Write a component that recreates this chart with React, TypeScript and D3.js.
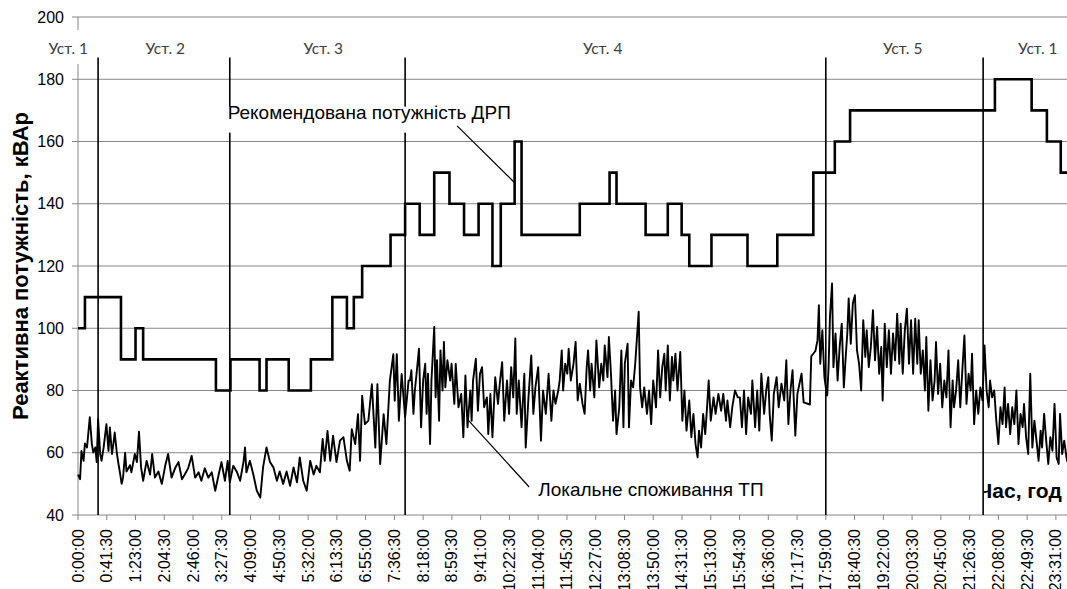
import React from "react";
import * as d3 from "d3";

const W = 1067;
const H = 589;

// y axis (кВАр)
const yTicks = [40, 60, 80, 100, 120, 140, 160, 180, 200];

// time axis labels, one every 41.5 minutes
const timeLabels = [
  "0:00:00", "0:41:30", "1:23:00", "2:04:30", "2:46:00", "3:27:30", "4:09:00",
  "4:50:30", "5:32:00", "6:13:30", "6:55:00", "7:36:30", "8:18:00", "8:59:30",
  "9:41:00", "10:22:30", "11:04:00", "11:45:30", "12:27:00", "13:08:30",
  "13:50:00", "14:31:30", "15:13:00", "15:54:30", "16:36:00", "17:17:30",
  "17:59:00", "18:40:30", "19:22:00", "20:03:30", "20:45:00", "21:26:30",
  "22:08:00", "22:49:30", "23:31:00",
];

// settings (уставки) - minutes of the day
const settingNames = ["Уст. 1", "Уст. 2", "Уст. 3", "Уст. 4", "Уст. 5", "Уст. 1"];
const settingLabelAt = [-14, 126, 354, 757, 1190, 1385];
const settingChanges = [29, 219, 472, 1079, 1306];

// recommended DRP power, step changes (minute, kVAr)
const drpTimes = [
  0, 10, 62, 83, 94, 199, 220, 262, 272, 304, 336, 367, 388, 398, 410, 451,
  472, 493, 514, 536, 557, 578, 598, 610, 630, 640, 724, 767, 777, 819, 851,
  871, 882, 914, 966, 1009, 1061, 1092, 1114, 1323, 1376, 1398, 1418,
];
const drpValues = [
  100, 110, 90, 100, 90, 80, 90, 80, 90, 80, 90, 110, 100, 110, 120, 130,
  140, 130, 150, 140, 130, 140, 120, 140, 160, 130, 140, 150, 140, 130, 140,
  130, 120, 130, 120, 130, 150, 160, 170, 180, 170, 160, 150,
];

// local consumption of the substation (minute, kVAr)
const loadNight: [number, number][] = [
  [0, 53], [3, 51.5], [5, 60.6], [8, 57.4], [10, 63], [13, 61.7], [15, 66.5], [17, 71.4],
  [20, 62.8], [22, 60.1], [25, 61.7], [27, 57], [29, 70.8], [32, 59.6], [34, 57.4], [37, 61.7],
  [41, 69.2], [44, 60.6], [46, 68.1], [49, 59.6], [51, 62.8], [53, 66.5], [56, 60], [58, 57],
  [61, 53], [63, 50], [65, 52], [68, 60], [70, 54], [75, 56], [77, 53.7], [82, 59.6],
  [85, 57], [88, 66.8], [91, 55.3], [94, 51], [99, 57.4], [104, 53], [107, 59.6], [111, 52],
  [116, 54], [121, 50], [126, 56], [130, 59.6], [135, 52], [140, 55], [145, 57], [150, 51.5],
  [154, 53], [159, 55], [164, 59], [169, 52], [174, 53.7], [178, 51], [183, 55], [188, 52],
  [193, 53.7], [198, 47.8], [203, 53], [207, 57], [212, 51], [216, 57.4], [219, 50.5], [224, 55.8],
  [229, 54], [234, 51], [239, 57.4], [241, 61.7], [243, 53.7], [248, 57.4], [253, 53], [258, 47.8],
  [263, 45.6], [267, 55.3], [272, 61.7], [277, 57], [282, 55.3], [287, 51], [291, 54], [296, 50],
  [301, 54], [306, 49.4], [311, 55.3], [316, 50.5], [320, 58.5], [325, 51], [330, 47.8], [335, 57.4],
  [340, 53], [344, 55.8], [349, 53.7], [353, 64.4], [356, 57.4], [360, 67], [364, 57.4], [368, 65.5],
  [373, 57], [378, 63.9], [383, 65], [388, 57.4], [392, 54.2], [395, 67.6], [400, 62.8], [404, 72.4],
  [407, 57.4], [410, 78.3], [414, 69.2], [419, 70.3], [424, 82], [429, 61.7], [432, 82], [436, 56.4],
  [441, 72.4], [445, 62.8], [450, 83.2], [455, 91.7], [457, 76.7], [460, 91.7], [463, 70.3], [467, 85.3],
  [472, 71.4], [477, 83.2],
];
const loadDay: [number, number][] = [
  [479, 83.2], [481, 86.5], [484, 72.5], [486, 80], [489, 86.5], [492, 93.4], [495, 68.2], [498, 83.2],
  [501, 88.6], [503, 72.5], [505, 85.4], [508, 62.8], [510, 83.2], [514, 100.4], [516, 77.8], [518, 89.7],
  [521, 70.3], [523, 92.9], [526, 80], [528, 95.6], [530, 81], [533, 89.7], [537, 83.2], [539, 88.6],
  [543, 75.7], [545, 88.6], [549, 74.6], [553, 78.9], [556, 65], [559, 84.8], [562, 68.2], [566, 80],
  [568, 70.3], [570, 83.2], [574, 90.2], [577, 73.5], [580, 85.4], [583, 87.5], [586, 74.6], [590, 77.8],
  [592, 66], [595, 78.9], [598, 65], [602, 84.3], [606, 75.7], [609, 83.2], [612, 89.1], [615, 70.3],
  [619, 83.2], [622, 72.5], [625, 87.5], [628, 77.8], [631, 96.7], [633, 72.5], [636, 83.2], [640, 68.2],
  [644, 85.4], [646, 61.7], [650, 77.8], [654, 91.3], [657, 72.5], [660, 81], [664, 87.5], [668, 63.9],
  [671, 80], [675, 72.5], [679, 85.4], [683, 70.3], [686, 80], [689, 75.7], [693, 80], [695, 83.2],
  [698, 92.9], [700, 80], [703, 88.6], [706, 85.4], [708, 93.4], [711, 83.2], [715, 88.6], [718, 95.6],
  [721, 76.8], [724, 82.2], [728, 75.7], [731, 72.5], [734, 87.5], [736, 92.9], [739, 80], [741, 88.6],
  [745, 77.8], [748, 96.1], [752, 81], [755, 88.6], [758, 83.2], [760, 94.5], [764, 84.3], [766, 97.2],
  [769, 85.4], [772, 70.3], [775, 80], [777, 66], [781, 74.6], [784, 92.9], [787, 68.2], [789, 88.6],
  [793, 95], [795, 68.2], [798, 83.2], [801, 81], [804, 88.6], [809, 105.3], [811, 81], [814, 74.6],
  [817, 81], [821, 72.5], [824, 80], [827, 69.2], [830, 83.2], [834, 74.6], [837, 92.9], [840, 77.8],
  [843, 87.5], [846, 91.8], [848, 80], [851, 94.5], [854, 76.8], [857, 90.8], [859, 83.2], [862, 91.8],
  [865, 80], [869, 92.4], [872, 70.3], [875, 80], [878, 67.1], [882, 76.8], [885, 65], [888, 72.5],
  [891, 62.8], [894, 58.5], [896, 67.1], [899, 61.7], [902, 72.5], [905, 66], [908, 75.7], [910, 83.2],
  [913, 70.3], [917, 77.8], [920, 72.5], [924, 78.9], [928, 73.5], [931, 78.9], [935, 70.3], [937, 76.8],
  [941, 68.2], [944, 74.6], [948, 80], [952, 77.8],
];
const loadEvening: [number, number][] = [
  [955, 77.8], [958, 68.2], [961, 80], [964, 66], [967, 77.8], [971, 72.5], [973, 83.2], [977, 68.2],
  [980, 80], [983, 67.1], [986, 85.4], [990, 72.5], [993, 80], [996, 84.3], [998, 72.5], [1001, 63.9],
  [1004, 78.9], [1008, 84.3], [1011, 74.6], [1015, 82.2], [1019, 76.8], [1022, 89.7], [1025, 69.2], [1028, 80],
  [1031, 86.5], [1035, 65.5], [1038, 78.9], [1042, 83.2], [1044, 85.4], [1047, 76.2], [1056, 75.5], [1058, 91],
  [1064, 92.7], [1067, 96.1], [1069, 107.4], [1071, 88.6], [1074, 99.4], [1077, 84.3], [1079, 81], [1081, 78.4],
  [1083, 87.5], [1085, 103.7], [1088, 114.4], [1090, 87.5], [1093, 98.3], [1096, 83.2], [1099, 94], [1102, 101.5],
  [1105, 81], [1108, 91.8], [1110, 98.3], [1112, 109.6], [1115, 95], [1118, 108], [1121, 110.6], [1124, 92.9],
  [1127, 88.6], [1130, 80], [1133, 102.6], [1136, 90.8], [1138, 99.4], [1141, 87.5], [1144, 94], [1147, 105.8],
  [1150, 89.7], [1153, 100.4], [1156, 85.4], [1159, 94], [1161, 76.8], [1164, 101.5], [1167, 87.5], [1170, 99.4],
  [1173, 85.4], [1176, 98.3], [1179, 89.7], [1182, 104.7], [1185, 88.6], [1187, 101.5], [1190, 85.4], [1193, 99.4],
  [1196, 106.3], [1199, 88.6], [1202, 102.6], [1205, 85.4], [1208, 103.1], [1211, 88.6], [1213, 102.6], [1216, 85.4],
  [1219, 92.9], [1222, 80], [1224, 97.2], [1227, 73.5], [1230, 89.7], [1233, 76.8], [1236, 83.2], [1238, 95.6],
  [1241, 78.9], [1244, 88.6], [1247, 74.6], [1250, 83.2], [1253, 77.8], [1256, 92.9], [1259, 68.2], [1262, 83.2],
  [1264, 74.6], [1267, 80], [1270, 89.7], [1273, 74.6], [1276, 86.5], [1279, 97.7], [1282, 75.7], [1285, 85.4],
  [1288, 80], [1290, 91.8], [1293, 69.2], [1296, 80], [1299, 72.5], [1302, 81], [1305, 76.8], [1308, 94.5],
  [1311, 80], [1314, 74.6], [1316, 83.2], [1319, 77.8], [1322, 80], [1325, 70.3], [1328, 62.8], [1331, 74.6],
  [1334, 69.2], [1337, 81], [1339, 68.2], [1342, 75.7], [1345, 66], [1348, 74.6], [1351, 69.2], [1354, 80],
  [1357, 62.8], [1360, 72.5], [1363, 68.2], [1365, 75.7], [1368, 65], [1371, 59.6], [1374, 85.4], [1377, 61.7],
  [1380, 70.3], [1383, 63.9], [1386, 57.4], [1389, 67.1], [1391, 61.7], [1394, 72.5], [1397, 63.9], [1400, 56.4],
  [1403, 65], [1406, 60.6], [1409, 75.7], [1412, 58.5], [1415, 56.4], [1417, 72.5], [1420, 59.6], [1423, 63.9],
  [1427, 57.4], [1432, 61], [1438, 58],
];

const toMinutes = (s: string) => {
  const [h, m, sec] = s.split(":").map(Number);
  return h * 60 + m + sec / 60;
};

const App = () => {
  const x = d3.scaleLinear().domain([0, 1440]).range([78, 1076]);
  const y = d3.scaleLinear().domain([40, 200]).range([515, 17]);

  const drp: [number, number][] = drpTimes.map((t, i) => [t, drpValues[i]]);
  drp.push([1440, drpValues[drpValues.length - 1]]);
  const load = [...loadNight, ...loadDay, ...loadEvening];

  const stepLine = d3
    .line<[number, number]>()
    .x((d) => x(d[0]))
    .y((d) => y(d[1]))
    .curve(d3.curveStepAfter);
  const loadLine = d3
    .line<[number, number]>()
    .x((d) => x(d[0]))
    .y((d) => y(d[1]));

  const font = "'Liberation Sans', Arial, sans-serif";
  const left = x(0);

  return (
    <div style={{ position: "absolute", left: 0, top: 0 }}>
      <svg width={W} height={H} style={{ display: "block", background: "#fff" }}>
        <defs>
          <clipPath id="timeClip">
            <rect x={x(1306) + 1} y={0} width={W} height={H} />
          </clipPath>
        </defs>

        {/* grid */}
        {yTicks.map((v) => (
          <line key={v} x1={left} x2={W} y1={y(v)} y2={y(v)} stroke="#868686" strokeWidth={1} />
        ))}
        {/* axes */}
        <line x1={left} x2={left} y1={y(200)} y2={y(40)} stroke="#868686" strokeWidth={1} />
        {yTicks.map((v) => (
          <g key={"yt" + v}>
            <line x1={left - 6} x2={left} y1={y(v)} y2={y(v)} stroke="#868686" />
            <text x={left - 14} y={y(v)} textAnchor="end" dominantBaseline="central"
              fontFamily={font} fontSize={16} fill="#000">{v}</text>
          </g>
        ))}
        {timeLabels.map((s) => {
          const tx = x(toMinutes(s));
          return (
            <g key={s}>
              <line x1={tx} x2={tx} y1={y(40)} y2={y(40) + 5} stroke="#868686" />
              <text transform={`translate(${tx},${y(40) + 14}) rotate(-90)`} textAnchor="end"
                dominantBaseline="central" fontFamily={font} fontSize={16} fill="#000">{s}</text>
            </g>
          );
        })}

        {/* series */}
        <path d={loadLine(load) || ""} fill="none" stroke="#000" strokeWidth={1.9} strokeLinejoin="round" />
        <path d={stepLine(drp) || ""} fill="none" stroke="#000" strokeWidth={2.6} />

        {/* setting change lines */}
        {settingChanges.map((t) => (
          <line key={t} x1={x(t)} x2={x(t)} y1={y(187)} y2={y(40)} stroke="#000" strokeWidth={1.6} />
        ))}

        {/* setting labels */}
        {settingNames.map((n, i) => (
          <g key={i}>
            <rect x={x(settingLabelAt[i]) - 28} y={30} width={56} height={34} fill="#fff" />
            <text x={x(settingLabelAt[i])} y={48} textAnchor="middle" dominantBaseline="central"
              fontFamily="Lato, 'Open Sans', sans-serif" fontSize={15.5} fill="#404040">{n}</text>
          </g>
        ))}

        {/* annotations */}
        <rect x={x(216) - 2} y={y(171.2)} width={292} height={26} fill="#fff" />
        <text x={x(216)} y={y(167.3)} fontFamily={font} fontSize={19} fill="#000">
          Рекомендована потужність ДРП
        </text>
        <line x1={x(547)} y1={y(165)} x2={x(629)} y2={y(147)} stroke="#000" strokeWidth={1.2} />

        <text x={x(664)} y={y(46)} fontFamily={font} fontSize={19} fill="#000">
          Локальне споживання ТП
        </text>
        <line x1={x(563)} y1={y(70.5)} x2={x(651)} y2={y(49)} stroke="#000" strokeWidth={1.2} />

        <text x={x(1298)} y={y(45.6)} fontFamily={font} fontSize={21} fontWeight="bold" fill="#000"
          clipPath="url(#timeClip)">
          Час, год
        </text>

        <text transform={`translate(20,266) rotate(-90)`} textAnchor="middle" dominantBaseline="central"
          fontFamily={font} fontSize={22} fontWeight="bold" fill="#000">
          Реактивна потужність, кВАр
        </text>
      </svg>
    </div>
  );
};

export default App;
